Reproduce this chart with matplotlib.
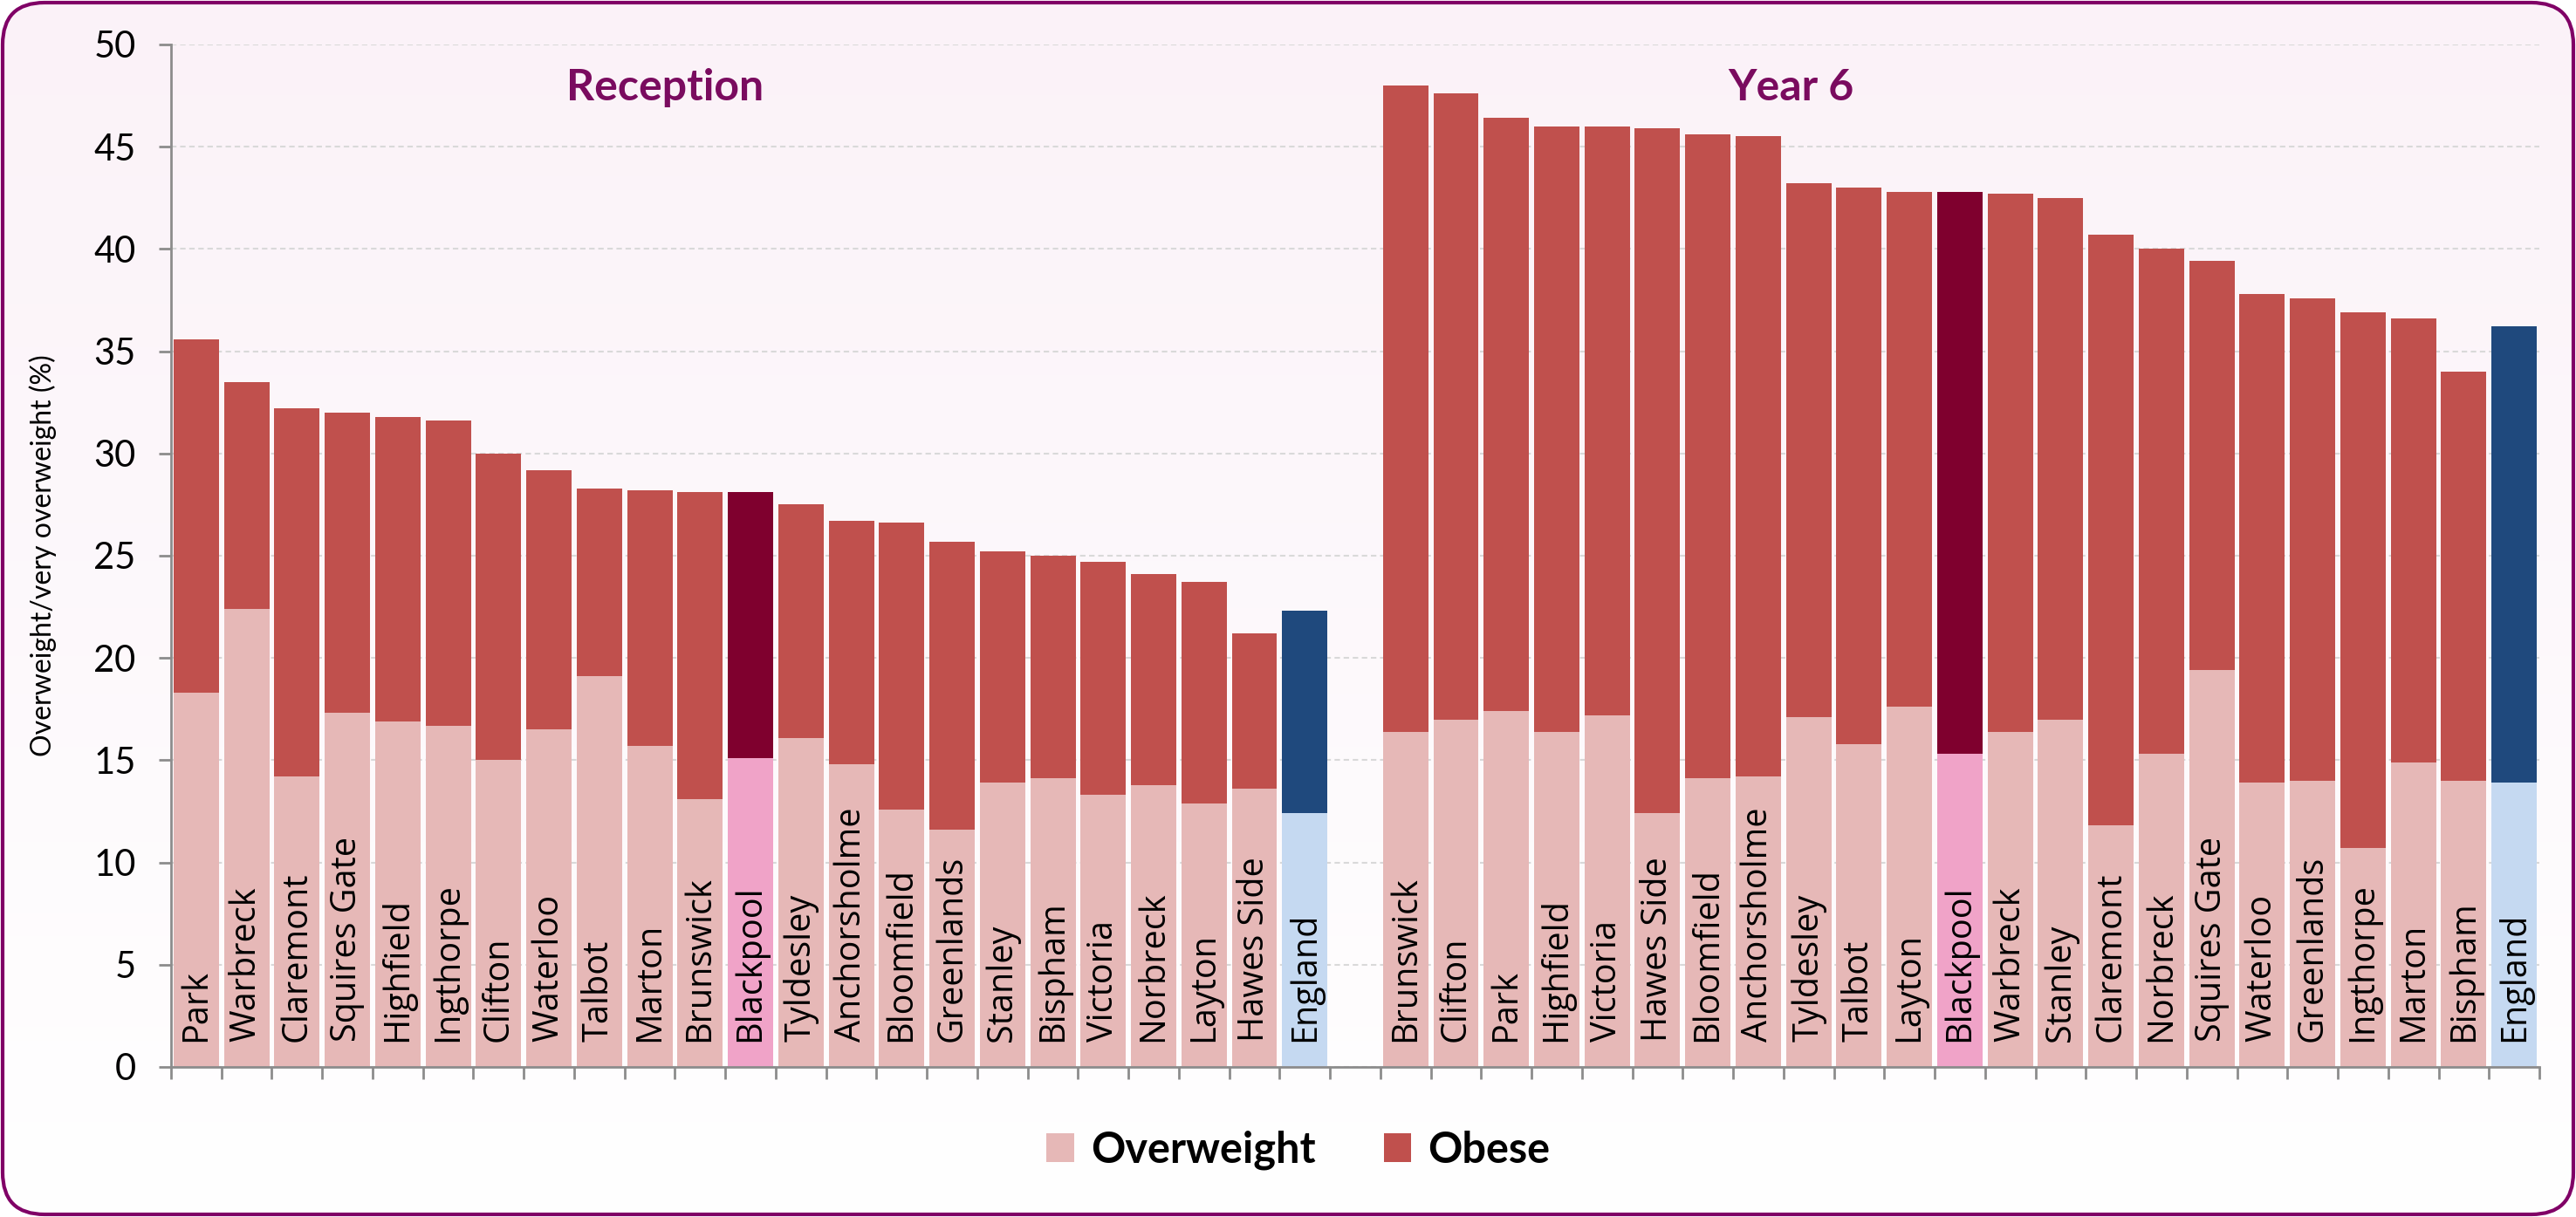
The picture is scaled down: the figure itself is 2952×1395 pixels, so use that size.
import numpy as np
import matplotlib
matplotlib.use('Agg')
import matplotlib.pyplot as plt
from matplotlib.patches import FancyBboxPatch, Patch
from matplotlib.transforms import IdentityTransform

# 数据
reception_names = ['Park', 'Warbreck', 'Claremont', 'Squires Gate', 'Highfield', 'Ingthorpe',
                   'Clifton', 'Waterloo', 'Talbot', 'Marton', 'Brunswick', 'Blackpool',
                   'Tyldesley', 'Anchorsholme', 'Bloomfield', 'Greenlands', 'Stanley',
                   'Bispham', 'Victoria', 'Norbreck', 'Layton', 'Hawes Side', 'England']
reception_overweight = [18.3, 22.4, 14.2, 17.3, 16.9, 16.7, 15.0, 16.5, 19.1, 15.7, 13.1, 15.1,
                        16.1, 14.8, 12.6, 11.6, 13.9, 14.1, 13.3, 13.8, 12.9, 13.6, 12.4]
reception_total = [35.6, 33.5, 32.2, 32.0, 31.8, 31.6, 30.0, 29.2, 28.3, 28.2, 28.1, 28.1,
                   27.5, 26.7, 26.6, 25.7, 25.2, 25.0, 24.7, 24.1, 23.7, 21.2, 22.3]

year6_names = ['Brunswick', 'Clifton', 'Park', 'Highfield', 'Victoria', 'Hawes Side',
               'Bloomfield', 'Anchorsholme', 'Tyldesley', 'Talbot', 'Layton', 'Blackpool',
               'Warbreck', 'Stanley', 'Claremont', 'Norbreck', 'Squires Gate', 'Waterloo',
               'Greenlands', 'Ingthorpe', 'Marton', 'Bispham', 'England']
year6_overweight = [16.4, 17.0, 17.4, 16.4, 17.2, 12.4, 14.1, 14.2, 17.1, 15.8, 17.6, 15.3,
                    16.4, 17.0, 11.8, 15.3, 19.4, 13.9, 14.0, 10.7, 14.9, 14.0, 13.9]
year6_total = [48.0, 47.6, 46.4, 46.0, 46.0, 45.9, 45.6, 45.5, 43.2, 43.0, 42.8, 42.8,
               42.7, 42.5, 40.7, 40.0, 39.4, 37.8, 37.6, 36.9, 36.6, 34.0, 36.2]

# 颜色
c_ow, c_ob = '#E6B8B7', '#C0504D'
c_bp_ow, c_bp_ob = '#F0A3C8', '#7F002E'
c_en_ow, c_en_ob = '#C5D9F1', '#1F497D'
purple = '#7A0B5F'

W, H = 2952, 1395
fig = plt.figure(figsize=(W / 100, H / 100), dpi=100)
fig.patch.set_alpha(0)

# 圆角边框 + 渐变背景
frame = FancyBboxPatch((3, 3), W - 6, H - 6, boxstyle='round,pad=0,rounding_size=48',
                       transform=IdentityTransform(), facecolor='none',
                       edgecolor='#800066', linewidth=3, zorder=5)
bg = fig.add_axes([0, 0, 1, 1], zorder=-1)
grad = np.linspace(0, 1, 256).reshape(-1, 1)
top_c = np.array([251, 242, 248]) / 255
bot_c = np.array([255, 255, 255]) / 255
img = top_c * (1 - grad[..., None]) + bot_c * grad[..., None]
img = np.repeat(img, 2, axis=1)
im = bg.imshow(img, aspect='auto', extent=[0, 1, 0, 1])
bg.set_xlim(0, 1)
bg.set_ylim(0, 1)
bg.axis('off')
clip = FancyBboxPatch((3, 3), W - 6, H - 6, boxstyle='round,pad=0,rounding_size=48',
                      transform=IdentityTransform(), facecolor='none', edgecolor='none')
im.set_clip_path(clip)
fig.patches.append(frame)

ax = fig.add_axes([196 / W, 1 - 1223 / H, (2910 - 196) / W, (1223 - 51) / H])
ax.patch.set_alpha(0)

names = reception_names + year6_names
overweight = np.array(reception_overweight + year6_overweight)
total = np.array(reception_total + year6_total)
obese = total - overweight
x = np.concatenate([np.arange(len(reception_names)),
                    np.arange(len(year6_names)) + len(reception_names) + 1])

ow_colors, ob_colors = [], []
for n in names:
    if n == 'Blackpool':
        ow_colors.append(c_bp_ow); ob_colors.append(c_bp_ob)
    elif n == 'England':
        ow_colors.append(c_en_ow); ob_colors.append(c_en_ob)
    else:
        ow_colors.append(c_ow); ob_colors.append(c_ob)

ax.bar(x, overweight, width=0.9, color=ow_colors, zorder=2)
ax.bar(x, obese, bottom=overweight, width=0.9, color=ob_colors, zorder=2)

for xi, n in zip(x, names):
    ax.text(xi, 1.25, n, rotation=90, ha='center', va='bottom', fontsize=28.5,
            family='Open Sans', color='black', zorder=3)

n_cat = len(reception_names) + 1 + len(year6_names)
ax.set_xlim(-0.5, n_cat - 0.5)
ax.set_ylim(0, 50)
ax.set_yticks(np.arange(0, 51, 5))
ax.set_xticks(np.arange(-0.5, n_cat, 1))
ax.set_xticklabels([])
ax.tick_params(axis='x', length=10, width=2, color='#8C8C8C', direction='out')
ax.tick_params(axis='y', length=10, width=2, color='#8C8C8C', direction='out',
               labelsize=30, pad=19)
for lab in ax.get_yticklabels():
    lab.set_family('Lato')
for s in ['top', 'right']:
    ax.spines[s].set_visible(False)
for s in ['left', 'bottom']:
    ax.spines[s].set_color('#8C8C8C')
    ax.spines[s].set_linewidth(2)
ax.yaxis.grid(True, linestyle=(0, (3, 2)), color='#D9D9D9', linewidth=1.5, zorder=0)
ax.set_axisbelow(True)
ax.set_ylabel('Overweight/very overweight (%)', fontsize=23, family='Lato')
ax.yaxis.set_label_coords(-0.0483, 0.5)

ax.text(9.3, 47.9, 'Reception', ha='center', va='center', fontsize=36,
        fontweight='bold', family='Lato', color=purple)
ax.text(31.65, 47.9, 'Year 6', ha='center', va='center', fontsize=36,
        fontweight='bold', family='Lato', color=purple)

handles = [Patch(facecolor=c_ow, label='Overweight'), Patch(facecolor=c_ob, label='Obese')]
fig.legend(handles=handles, loc='center', bbox_to_anchor=(0.504, 0.055), ncol=2,
           frameon=False, handlelength=0.65, handleheight=0.65, handletextpad=0.4,
           columnspacing=1.6, prop={'family': 'Lato', 'weight': 'bold', 'size': 35})

fig.savefig('out.png', dpi=100)
